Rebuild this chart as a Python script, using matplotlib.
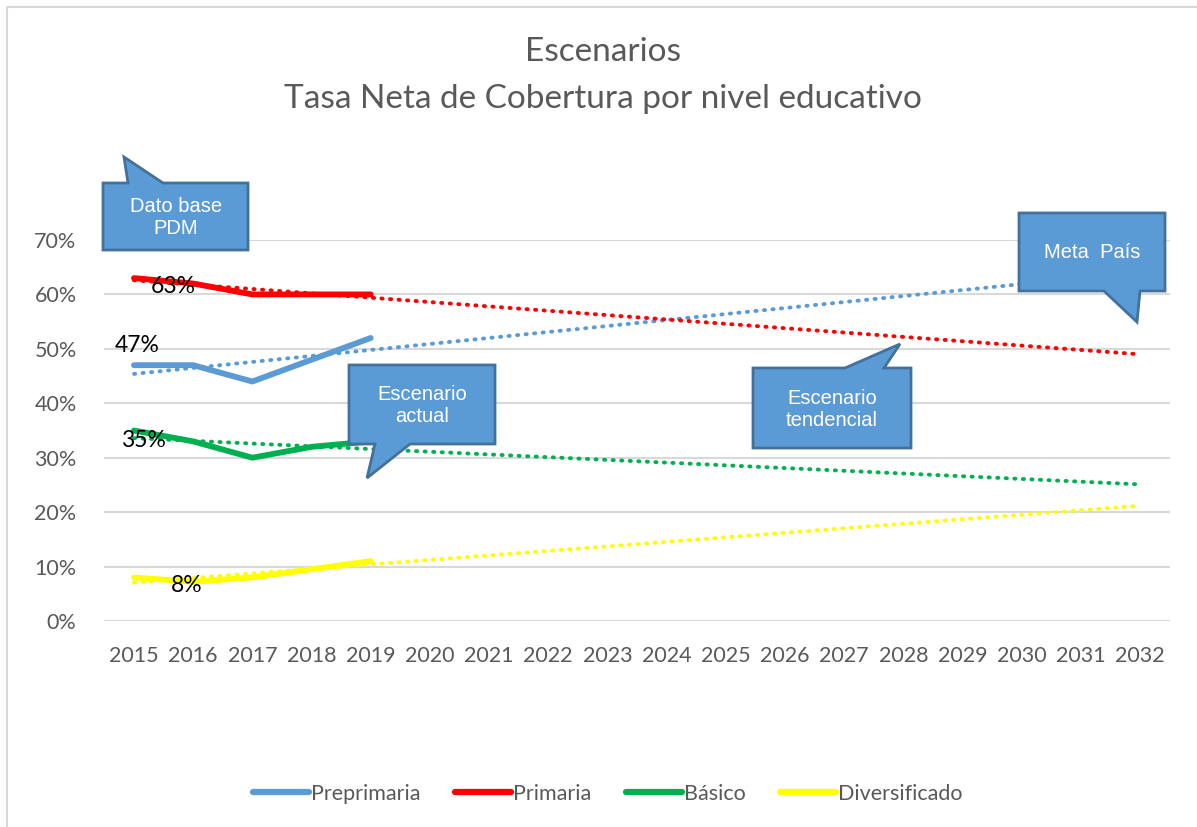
import numpy as np
import matplotlib
matplotlib.use("Agg")
import matplotlib.pyplot as plt
from matplotlib.patches import Polygon
from matplotlib.ticker import PercentFormatter
from matplotlib.lines import Line2D

# ---------------- data ----------------
years = list(range(2015, 2033))
obs_years = [2015, 2016, 2017, 2018, 2019]
preprimaria = [0.47, 0.47, 0.44, 0.48, 0.52]
primaria = [0.63, 0.62, 0.60, 0.60, 0.60]
basico = [0.35, 0.33, 0.30, 0.32, 0.33]
diversificado = [0.08, 0.072, 0.08, 0.095, 0.11]

series_names = ["Preprimaria", "Primaria", "Básico", "Diversificado"]
series_values = [preprimaria, primaria, basico, diversificado]
series_colors = ["#5B9BD5", "#FF0000", "#00B050", "#FFFF00"]

title_line1 = "Escenarios"
title_line2 = "Tasa Neta de Cobertura por nivel educativo"

# ---------------- figure ----------------
W, H = 1197, 827
fig = plt.figure(figsize=(W / 100, H / 100), dpi=100)
fig.patch.set_facecolor("white")

def fx(px):
    return px / W

def fy(py):
    return 1 - py / H

ax = fig.add_axes([fx(104.4), fy(621), fx(1169.6) - fx(104.4), fy(240) - fy(621)])
ax.set_xlim(2014.5, 2032.5)
ax.set_ylim(0, 0.70)
ax.set_yticks(np.arange(0, 0.71, 0.10))
ax.yaxis.set_major_formatter(PercentFormatter(1.0, decimals=0))
ax.set_xticks(years)
ax.set_xticklabels([str(y) for y in years])
ax.grid(axis="y", color="#D9D9D9", linewidth=1.5)
ax.set_axisbelow(True)
for s in ax.spines.values():
    s.set_visible(False)
ax.tick_params(axis="both", length=0, labelcolor="#595959", labelsize=15.5)
ax.tick_params(axis="y", pad=20)
ax.tick_params(axis="x", pad=18)
for lab in ax.get_xticklabels() + ax.get_yticklabels():
    lab.set_family("Lato")

xs_obs = np.array(obs_years, dtype=float)
xs_all = np.array(years, dtype=float)
for name, vals, col in zip(series_names, series_values, series_colors):
    # linear trendline (as Excel's trendline) fitted on the observed values
    k, b = np.polyfit(xs_obs, np.array(vals), 1)
    ax.plot(xs_all, k * xs_all + b, color=col, linewidth=2.8,
            linestyle=(0, (0.3, 1.9)), dash_capstyle="round", zorder=3)
    ax.plot(obs_years, vals, color=col, linewidth=4.2, label=name,
            solid_capstyle="round", zorder=2)

# data labels
lab_kw = dict(fontsize=16.5, color="black", family="Lato", va="center")
ax.annotate("63%", (2015, primaria[0]), xytext=(12, -6), textcoords="offset points", ha="left", **lab_kw)
ax.annotate("47%", (2015, preprimaria[0]), xytext=(2, 14), textcoords="offset points", ha="center", **lab_kw)
ax.annotate("35%", (2015, basico[0]), xytext=(7, -7), textcoords="offset points", ha="center", **lab_kw)
ax.annotate("8%", (2016, diversificado[1]), xytext=(-5, -3), textcoords="offset points", ha="center", **lab_kw)

# title
fig.text(fx(603), fy(52), title_line1, ha="center", va="center", fontsize=24,
         color="#595959", family="Lato")
fig.text(fx(603), fy(99), title_line2, ha="center", va="center", fontsize=24,
         color="#595959", family="Lato")

# legend
handles = [Line2D([0], [0], color=c, linewidth=4.5, solid_capstyle="round") for c in series_colors]
fig.legend(handles, series_names, loc="center", bbox_to_anchor=(fx(608), fy(794)),
           ncol=4, frameon=False, handlelength=2.6, handletextpad=0.1,
           columnspacing=1.6, prop={"family": "Lato", "size": 15.5},
           labelcolor="#595959")

# overlay for callouts and border (pixel coordinates)
ov = fig.add_axes([0, 0, 1, 1], zorder=10)
ov.set_xlim(0, W)
ov.set_ylim(H, 0)
ov.axis("off")
ov.patch.set_alpha(0)

# chart border (left & top visible)
ov.plot([7, 7, W + 5], [H + 5, 7, 7], color="#D9D9D9", linewidth=1.5)

fill = "#5B9BD5"
edge = "#41719C"

def callout(pts, text, cx, cy, size=14.5):
    ov.add_patch(Polygon(pts, closed=True, facecolor=fill, edgecolor=edge,
                         linewidth=2, joinstyle="miter"))
    ov.text(cx, cy, text, ha="center", va="center", color="white",
            fontsize=size, family="Liberation Sans", linespacing=1.2)

# Dato base PDM
callout([(103, 183), (128, 183), (124, 157), (163, 183), (248, 183),
         (248, 250), (103, 250)], "Dato base\nPDM", 176, 217)
# Escenario actual
callout([(349, 365), (495, 365), (495, 444), (410, 444), (367, 478),
         (375, 444), (349, 444)], "Escenario\nactual", 422, 405)
# Escenario tendencial
callout([(753, 368), (845, 368), (900, 344), (884, 368), (911, 368),
         (911, 448), (753, 448)], "Escenario\ntendencial", 832, 409)
# Meta País
callout([(1019, 213), (1165, 213), (1165, 291), (1140, 291), (1137, 322),
         (1104, 291), (1019, 291)], "Meta  País", 1092, 252)

fig.savefig("out.png", dpi=100, facecolor="white")
